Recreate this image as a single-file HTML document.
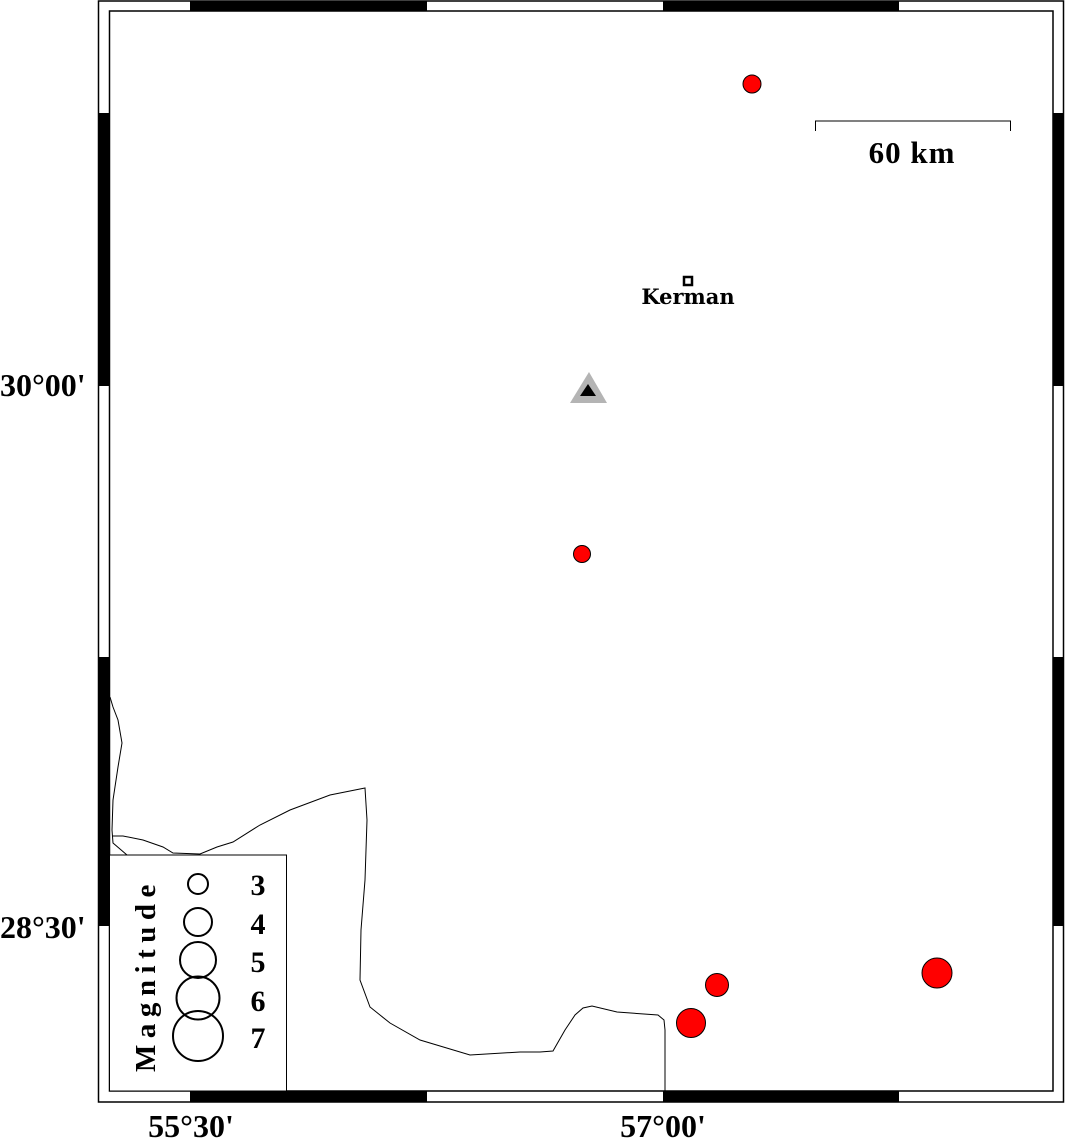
<!DOCTYPE html>
<html><head><meta charset="utf-8"><style>html,body{margin:0;padding:0;background:#fff}svg{display:block}</style></head>
<body>
<svg width="1066" height="1140" viewBox="0 0 1066 1140" xmlns="http://www.w3.org/2000/svg" font-family="Liberation Serif, serif" font-weight="bold">
<rect x="0" y="0" width="1066" height="1140" fill="#fff"/>
<rect x="98.5" y="1" width="965" height="1101" fill="none" stroke="#000" stroke-width="1.5"/>
<rect x="109.5" y="11" width="943.5" height="1080" fill="none" stroke="#000" stroke-width="1.5"/>
<rect x="190" y="1" width="237" height="10" fill="#000"/>
<rect x="663" y="1" width="236" height="10" fill="#000"/>
<rect x="190" y="1091" width="237" height="11" fill="#000"/>
<rect x="663" y="1091" width="236" height="11" fill="#000"/>
<rect x="98" y="113" width="12" height="273" fill="#000"/>
<rect x="98" y="657" width="12" height="269" fill="#000"/>
<rect x="1053" y="113" width="11" height="273" fill="#000"/>
<rect x="1053" y="657" width="11" height="269" fill="#000"/>
<g fill="none" stroke="#000" stroke-width="1">
<path d="M110,697 L113,707 L118,720 L122,743 L118,767 L113,800 L112,830 L113,843 L127,855"/>
<path d="M112,836 L123,836 L143,840 L163,847 L173,853 L200,854 L217,847 L233,842 L260,825 L290,810 L330,795 L365,788 L367,820 L365,880 L361,930 L360,980 L370,1007 L390,1023 L420,1040 L470,1055 L520,1052 L540,1052 L553,1051 L565,1030 L575,1015 L583,1008 L592,1006 L617,1012 L658,1015 L664,1020 L665,1030 L665,1091"/>
</g>
<g fill="#ff0000" stroke="#000" stroke-width="1">
<circle cx="752" cy="84" r="9"/>
<circle cx="582" cy="554" r="8.5"/>
<circle cx="717" cy="985" r="11.5"/>
<circle cx="691" cy="1023" r="14.5"/>
<circle cx="937" cy="973" r="15"/>
</g>
<polygon points="589,372 570,403 607,403" fill="#b4b4b4"/>
<polygon points="588,384 580,396 596,396" fill="#000"/>
<rect x="684" y="277" width="8" height="8" fill="#fff" stroke="#000" stroke-width="2.5"/>
<text x="688" y="304" font-size="21" text-anchor="middle" font-family="DejaVu Serif, serif">Kerman</text>
<path d="M815.5,131 V121 H1010.5 V131" fill="none" stroke="#000" stroke-width="1"/>
<text x="912" y="163" font-size="31" text-anchor="middle" letter-spacing="1">60 km</text>
<text x="0" y="396" font-size="32">30°00'</text>
<text x="0" y="938" font-size="32">28°30'</text>
<text x="191" y="1137" font-size="32" text-anchor="middle">55°30'</text>
<text x="663" y="1137" font-size="32" text-anchor="middle">57°00'</text>
<rect x="109.5" y="855" width="177" height="236" fill="#fff" stroke="#000" stroke-width="1"/>
<g fill="none" stroke="#000" stroke-width="2">
<circle cx="198" cy="884" r="10"/>
<circle cx="198" cy="922" r="14"/>
<circle cx="198" cy="960" r="18"/>
<circle cx="198" cy="998" r="21.5"/>
<circle cx="198" cy="1036" r="25"/>
</g>
<g font-size="30" text-anchor="middle">
<text x="258" y="895">3</text>
<text x="258" y="934">4</text>
<text x="258" y="972">5</text>
<text x="258" y="1011">6</text>
<text x="258" y="1048">7</text>
</g>
<text transform="translate(155,1072) rotate(-90)" font-size="29" letter-spacing="6.5">Magnitude</text>
</svg>
</body></html>
